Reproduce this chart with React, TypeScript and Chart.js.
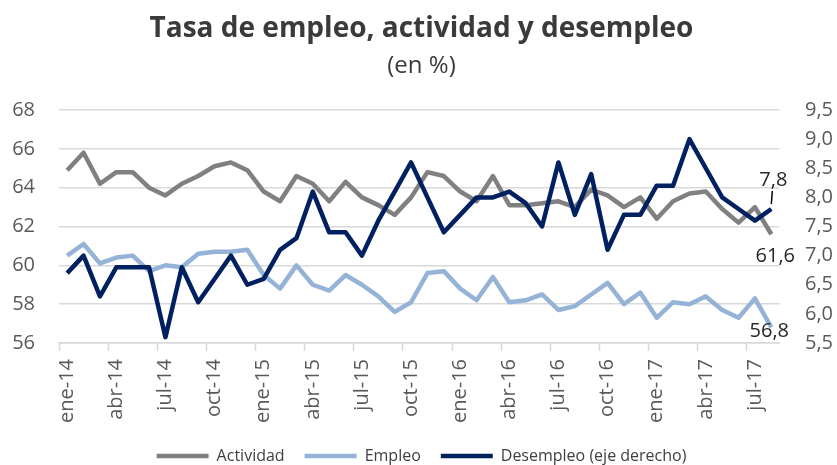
import React, { useEffect, useRef } from "react";
import { Chart, registerables } from "chart.js";

Chart.register(...registerables);

const MONTHS = ["ene", "feb", "mar", "abr", "may", "jun", "jul", "ago", "sep", "oct", "nov", "dic"];
const YEARS = ["14", "15", "16", "17"];
const N_POINTS = 44;
const CATEGORIES: string[] = [];
for (let i = 0; i < N_POINTS; i++) {
  CATEGORIES.push(MONTHS[i % 12] + "-" + YEARS[Math.floor(i / 12)]);
}

const ACTIVIDAD = [64.9, 65.8, 64.2, 64.8, 64.8, 64.0, 63.6, 64.2, 64.6, 65.1, 65.3, 64.9, 63.8, 63.3, 64.6, 64.2, 63.3, 64.3, 63.5, 63.1, 62.6, 63.5, 64.8, 64.6, 63.8, 63.3, 64.6, 63.1, 63.1, 63.2, 63.3, 63.0, 63.9, 63.6, 63.0, 63.5, 62.4, 63.3, 63.7, 63.8, 62.9, 62.2, 63.0, 61.6];
const EMPLEO = [60.5, 61.1, 60.1, 60.4, 60.5, 59.7, 60.0, 59.9, 60.6, 60.7, 60.7, 60.8, 59.5, 58.8, 60.0, 59.0, 58.7, 59.5, 59.0, 58.4, 57.6, 58.1, 59.6, 59.7, 58.8, 58.2, 59.4, 58.1, 58.2, 58.5, 57.7, 57.9, 58.5, 59.1, 58.0, 58.6, 57.3, 58.1, 58.0, 58.4, 57.7, 57.3, 58.3, 56.8];
const DESEMPLEO = [6.7, 7.0, 6.3, 6.8, 6.8, 6.8, 5.6, 6.8, 6.2, 6.6, 7.0, 6.5, 6.6, 7.1, 7.3, 8.1, 7.4, 7.4, 7.0, 7.6, 8.1, 8.6, 8.0, 7.4, 7.7, 8.0, 8.0, 8.1, 7.9, 7.5, 8.6, 7.7, 8.4, 7.1, 7.7, 7.7, 8.2, 8.2, 9.0, 8.5, 8.0, 7.8, 7.6, 7.8];

const fmt = (v: number) => v.toFixed(1).replace(".", ",");

const FONT = "'Open Sans', 'DejaVu Sans', sans-serif";
const GRID = "#d9d9d9";

const endLabels = {
  id: "endLabels",
  afterDatasetsDraw(chart: any) {
    const ctx = chart.ctx;
    ctx.save();
    ctx.font = `20px ${FONT}`;
    ctx.fillStyle = "#262626";
    ctx.textAlign = "center";
    ctx.textBaseline = "middle";
    const last = (i: number) => {
      const d = chart.getDatasetMeta(i).data;
      return d[d.length - 1];
    };
    const lastVal = (i: number) => {
      const v = chart.data.datasets[i].data;
      return v[v.length - 1];
    };
    const a = last(0);
    ctx.fillText(fmt(lastVal(0)), a.x + 4, a.y + 22);
    const e = last(1);
    ctx.fillText(fmt(lastVal(1)), e.x - 2, e.y + 4);
    const d = last(2);
    ctx.fillText(fmt(lastVal(2)), d.x + 2, d.y - 29);
    ctx.strokeStyle = "#000";
    ctx.lineWidth = 1.5;
    ctx.beginPath();
    ctx.moveTo(d.x, d.y - 5);
    ctx.lineTo(d.x + 1, d.y - 18);
    ctx.stroke();
    ctx.restore();
  },
};

export default function App() {
  const ref = useRef<HTMLCanvasElement | null>(null);
  useEffect(() => {
    if (!ref.current) return;
    const chart = new Chart(ref.current, {
      type: "line",
      data: {
        labels: CATEGORIES,
        datasets: [
          {
            label: "Actividad",
            data: ACTIVIDAD,
            borderColor: "#808080",
            backgroundColor: "#808080",
            borderWidth: 4.5,
            pointRadius: 0,
            tension: 0,
            borderJoinStyle: "round",
            yAxisID: "y",
            order: 2,
          },
          {
            label: "Empleo",
            data: EMPLEO,
            borderColor: "#95b3d7",
            backgroundColor: "#95b3d7",
            borderWidth: 4.5,
            pointRadius: 0,
            tension: 0,
            borderJoinStyle: "round",
            yAxisID: "y",
            order: 1,
          },
          {
            label: "Desempleo (eje derecho)",
            data: DESEMPLEO,
            borderColor: "#002060",
            backgroundColor: "#002060",
            borderWidth: 4.5,
            pointRadius: 0,
            tension: 0,
            borderJoinStyle: "round",
            yAxisID: "y1",
            order: 0,
          },
        ],
      },
      options: {
        animation: false,
        responsive: false,
        devicePixelRatio: 1,
        layout: { padding: { left: 6, right: 0, top: 0, bottom: 0 } },
        plugins: {
          tooltip: { enabled: false },
          title: {
            display: true,
            text: "Tasa de empleo, actividad y desempleo",
            color: "#3a3a3a",
            font: { family: FONT, size: 28, weight: "bold" },
            padding: { top: 12, bottom: 6 },
          },
          subtitle: {
            display: true,
            text: "(en %)",
            color: "#3a3a3a",
            font: { family: FONT, size: 24, weight: "normal" },
            padding: { top: 0, bottom: 29.6 },
          },
          legend: {
            position: "bottom",
            labels: {
              usePointStyle: true,
              pointStyle: "line",
              pointStyleWidth: 52,
              padding: 20,
              color: "#404040",
              font: { family: FONT, size: 16 },
              sort: (a: any, b: any) => a.datasetIndex - b.datasetIndex,
            },
          },
        },
        scales: {
          x: {
            type: "category",
            offset: true,
            afterFit: (s: any) => {
              s.height = 85;
            },
            grid: {
              offset: true,
              drawOnChartArea: false,
              drawTicks: true,
              tickLength: 8,
              tickWidth: 1.5,
              tickColor: (c: any) => (c.index !== undefined && c.index % 3 === 0 ? GRID : "rgba(0,0,0,0)"),
            },
            border: { display: true, color: GRID, width: 1.5 },
            ticks: {
              autoSkip: false,
              maxRotation: 90,
              minRotation: 90,
              padding: 8,
              color: "#595959",
              font: { family: FONT, size: 20 },
              callback: (_v: any, i: number) => (i % 3 === 0 ? CATEGORIES[i] : ""),
            },
          },
          y: {
            position: "left",
            min: 56,
            max: 68,
            afterFit: (s: any) => {
              s.width = 53;
            },
            grid: { color: GRID, lineWidth: 1.5, drawTicks: false },
            border: { display: false },
            ticks: {
              stepSize: 2,
              padding: 24,
              color: "#595959",
              font: { family: FONT, size: 20 },
            },
          },
          y1: {
            position: "right",
            min: 5.5,
            max: 9.5,
            afterFit: (s: any) => {
              s.width = 57.5;
            },
            grid: { drawOnChartArea: false, drawTicks: false },
            border: { display: false },
            ticks: {
              stepSize: 0.5,
              padding: 25.5,
              color: "#595959",
              font: { family: FONT, size: 20 },
              callback: (v: any) => fmt(Number(v)),
            },
          },
        },
      },
      plugins: [endLabels],
    } as any);
    return () => chart.destroy();
  }, []);
  return (
    <div
      style={{
        position: "fixed",
        left: 0,
        top: 0,
        width: 837,
        height: 465,
        overflow: "hidden",
        background: "#ffffff",
      }}
    >
      <canvas ref={ref} width={837} height={474} style={{ display: "block", width: 837, height: 474 }} />
    </div>
  );
}
